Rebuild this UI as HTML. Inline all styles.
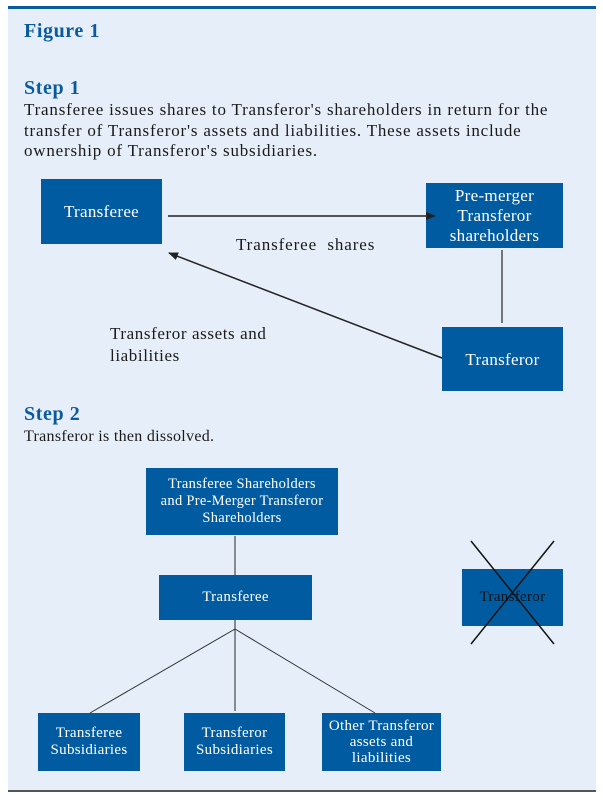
<!DOCTYPE html>
<html><head><style>
body{margin:0;width:603px;height:800px;background:#fff;position:relative;font-family:"Liberation Serif",serif;overflow:hidden}
.panel{position:absolute;left:8px;top:6px;width:588px;height:786px;background:#e6eff9;border-top:3px solid #0a5aa0;border-bottom:2px solid #555;box-sizing:border-box}
.t{position:absolute;color:#1a1a1a;letter-spacing:0.6px}
.h{position:absolute;color:#0a5aa0;font-weight:bold;font-size:20px;letter-spacing:0.6px}
.b{position:absolute;background:#005ba1;color:#fff;display:flex;align-items:center;justify-content:center;text-align:center;font-size:15px;line-height:17px;letter-spacing:0.3px}
</style></head><body>
<div class="panel"></div>
<div class="h" style="left:24px;top:20px">Figure 1</div>
<div class="h" style="left:24px;top:77px">Step 1</div>
<div class="t" style="left:24px;top:100px;font-size:17px;line-height:20.5px;letter-spacing:0.8px;white-space:nowrap">Transferee issues shares to Transferor's shareholders in return for the<br>transfer of Transferor's assets and liabilities. These assets include<br>ownership of Transferor's subsidiaries.</div>
<div class="b" style="left:41px;top:179px;width:121px;height:65px;font-size:17px">Transferee</div>
<div class="b" style="left:426px;top:183px;width:137px;height:65px;font-size:17px;line-height:20px">Pre-merger<br>Transferor<br>shareholders</div>
<div class="b" style="left:442px;top:327px;width:121px;height:64px;font-size:17px">Transferor</div>
<div class="t" style="left:236px;top:235px;font-size:17px;letter-spacing:0.9px">Transferee&nbsp; shares</div>
<div class="t" style="left:110px;top:323px;font-size:17px;line-height:22px;letter-spacing:0.6px">Transferor assets and<br>liabilities</div>
<div class="h" style="left:24px;top:403px">Step 2</div>
<div class="t" style="left:24px;top:428px;font-size:16px;letter-spacing:0.3px">Transferor is then dissolved.</div>
<div class="b" style="left:146px;top:468px;width:192px;height:67px;font-size:14.5px">Transferee Shareholders<br>and Pre-Merger Transferor<br>Shareholders</div>
<div class="b" style="left:159px;top:575px;width:153px;height:45px;font-size:15px">Transferee</div>
<div class="b" style="left:38px;top:713px;width:102px;height:58px;font-size:15px">Transferee<br>Subsidiaries</div>
<div class="b" style="left:184px;top:713px;width:101px;height:58px;font-size:15px">Transferor<br>Subsidiaries</div>
<div class="b" style="left:322px;top:713px;width:119px;height:58px;font-size:15px;line-height:16px">Other Transferor<br>assets and<br>liabilities</div>
<div class="b" style="left:462px;top:569px;width:101px;height:57px;font-size:15px;color:#111">Transferor</div>
<svg width="603" height="800" style="position:absolute;left:0;top:0">
<defs><marker id="a" markerWidth="10" markerHeight="8" refX="9" refY="4" orient="auto" markerUnits="userSpaceOnUse"><path d="M0,0 L10,4 L0,8z" fill="#222"/></marker></defs>
<line x1="168" y1="216" x2="435" y2="216" stroke="#222" stroke-width="1.5" marker-end="url(#a)"/>
<line x1="442" y1="358" x2="169" y2="253" stroke="#222" stroke-width="1.5" marker-end="url(#a)"/>
<line x1="502" y1="250" x2="502" y2="323" stroke="#333" stroke-width="1.3"/>
<line x1="235" y1="536" x2="235" y2="575" stroke="#555" stroke-width="1.3"/>
<line x1="235" y1="620" x2="235" y2="711" stroke="#555" stroke-width="1.3"/>
<line x1="235" y1="629" x2="90" y2="713" stroke="#333" stroke-width="1"/>
<line x1="235" y1="629" x2="375" y2="713" stroke="#333" stroke-width="1"/>
<line x1="471" y1="541" x2="554" y2="644" stroke="#111" stroke-width="1.5"/>
<line x1="554" y1="541" x2="471" y2="644" stroke="#111" stroke-width="1.5"/>
</svg>
</body></html>
